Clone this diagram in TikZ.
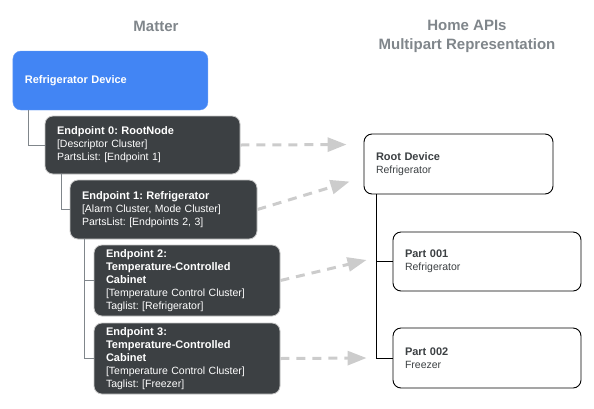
\documentclass[tikz,border=0pt]{standalone}
\usepackage{fontspec}
\setmainfont{Liberation Sans}
\usetikzlibrary{positioning,calc,arrows.meta}
\frenchspacing

\definecolor{matterblue}{HTML}{4285F4}
\definecolor{darkbox}{HTML}{3C4043}
\definecolor{titlegray}{HTML}{80868B}
\definecolor{linkgray}{HTML}{CCCCCC}
\definecolor{treegray}{HTML}{80868B}

\newcommand{\eptitle}[1]{{\fontsize{11}{13}\selectfont\bfseries #1}}

% box/.style: text width (box width - 24pt), box height
\tikzset{
	box/.style 2 args={rounded corners=8pt, align=left, inner xsep=12pt, inner ysep=0pt,
		text width=#1, minimum height=#2, font=\fontsize{10.5}{13}\selectfont},
	devbox/.style={box={171pt}{59pt}, fill=matterblue, draw=matterblue!80!white, text=white},
	epbox/.style 2 args={box={#1}{#2}, fill=darkbox, draw=gray!45, line width=0.8pt, text=white},
	partbox/.style 2 args={box={#1}{#2}, fill=white, draw=black, line width=0.9pt, text=darkbox},
	title/.style={text=titlegray, align=center, font=\fontsize{15}{19}\selectfont\bfseries},
	tree/.style={draw=treegray, line width=0.9pt},
	parttree/.style={draw=black, line width=0.9pt},
	maplink/.style={draw=linkgray, line width=3pt, dash pattern=on 9pt off 7pt,
		-{Triangle[length=19pt,width=14pt]}},
}

\begin{document}
\begin{tikzpicture}[x=1pt,y=-1pt]
	\useasboundingbox (0,0) rectangle (594,408);

	% titles
	\node[title] (mattertitle) at (156,26) {Matter};
	\node[title] (apititle) at (467,36.5) {Home APIs\\Multipart Representation};

	% matter side
	\node[devbox] (dev) at (110.4,80.5) {\eptitle{Refrigerator Device}};
	\node[epbox={171pt}{58pt}] (ep0) at (142.5,145) {\eptitle{Endpoint 0: RootNode}\\{}[Descriptor Cluster]\\PartsList: [Endpoint 1]};
	\node[epbox={163pt}{59pt}] (ep1) at (163.5,209.5) {\eptitle{Endpoint 1: Refrigerator}\\{}[Alarm Cluster, Mode Cluster]\\PartsList: [Endpoints 2, 3]};
	\node[epbox={162pt}{71pt}] (ep2) at (187,280.5) {\eptitle{Endpoint 2:}\\\eptitle{Temperature-Controlled}\\\eptitle{Cabinet}\\{}[Temperature Control Cluster]\\Taglist: [Refrigerator]};
	\node[epbox={162pt}{71pt}] (ep3) at (187,358.5) {\eptitle{Endpoint 3:}\\\eptitle{Temperature-Controlled}\\\eptitle{Cabinet}\\{}[Temperature Control Cluster]\\Taglist: [Freezer]};

	% home apis side
	\node[partbox={165pt}{60pt}] (root) at (458.5,164) {\eptitle{Root Device}\\Refrigerator};
	\node[partbox={164pt}{59pt}] (part1) at (487,261.5) {\eptitle{Part 001}\\Refrigerator};
	\node[partbox={164pt}{60pt}] (part2) at (487,358) {\eptitle{Part 002}\\Freezer};

	% ends of the mapping arrows
	\coordinate (in0) at ($(root.north west)+(-17,11)$);
	\coordinate (in1) at ($(root.north west)+(-14,48)$);
	\coordinate (in2) at ($(part1.west)+(-26,-1.5)$);
	\coordinate (in3) at ($(part2.west)+(-26,0)$);

	% tree lines
	\draw[tree] ($(dev.south west)+(15.3,0)$) |- (ep0.west);
	\draw[tree] ($(ep0.south west)+(17,0)$) |- (ep1.west);
	\draw[tree] ($(ep1.south west)+(15,0)$) |- (ep2.west);
	\draw[tree] ($(ep1.south west)+(15,0)$) |- (ep3.west);
	\draw[parttree] ($(root.south west)+(13,0)$) |- (part1.west);
	\draw[parttree] ($(root.south west)+(13,0)$) |- (part2.west);

	% mapping
	\draw[maplink] (ep0.east) -- (in0);
	\draw[maplink] (ep1.east) -- (in1);
	\draw[maplink] (ep2.east) -- (in2);
	\draw[maplink] (ep3.east) -- (in3);
\end{tikzpicture}
\end{document}
